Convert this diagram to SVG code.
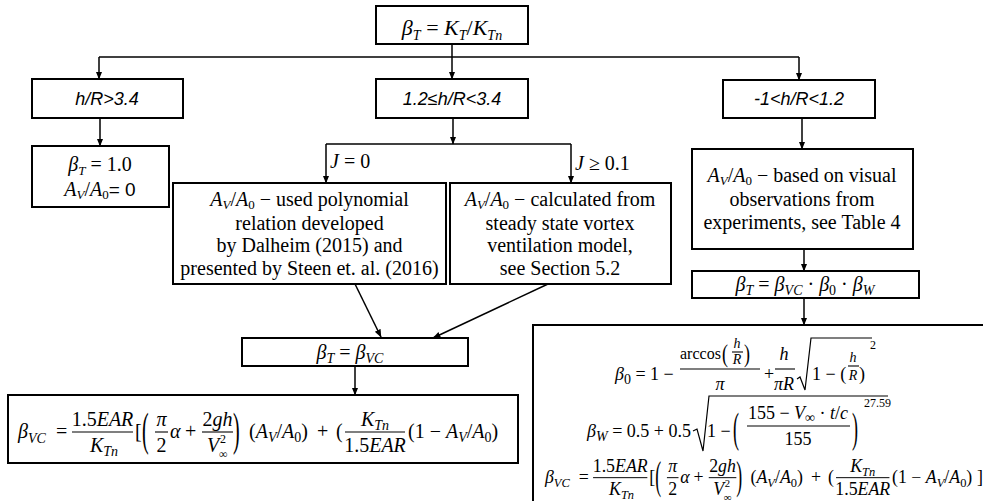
<svg xmlns="http://www.w3.org/2000/svg" xmlns:xlink="http://www.w3.org/1999/xlink" width="983" height="501" viewBox="0 0 983 501">
  <style>
    .box { fill: #fff; stroke: #000; stroke-width: 2; }
    .ln { fill: none; stroke: #000; stroke-width: 1.5; }
    .rad { fill: none; stroke: #000; stroke-width: 1.2; }
    .bar { stroke: #000; stroke-width: 1.1; }
    .m { font-family: "Liberation Serif", "Times New Roman", serif; font-size: 20px; fill: #000; }
    .sm { font-family: "Liberation Serif", "Times New Roman", serif; font-size: 18px; fill: #000; }
    .i { font-style: italic; }
    .sb { font-size: 14px; }
    .sb3 { font-size: 13px; }
    .sb2 { font-size: 12px; }
    .cs { font-family: "Liberation Sans", Arial, sans-serif; font-style: italic; font-size: 18px; fill: #000; }
    .sans { font-family: "Liberation Sans", Arial, sans-serif; font-style: normal; }
    .c { text-anchor: middle; }
  </style>
  <defs>
    <marker id="ah" markerUnits="userSpaceOnUse" markerWidth="8" markerHeight="8" refX="7.5" refY="4" orient="auto">
      <path d="M0,0.8 L8,4 L0,7.2 z" fill="#000"/>
    </marker>
    <!-- beta_VC expression, baseline at y=0 -->
    <g id="bvc-expr">
      <text class="m" x="0" y="0"><tspan class="i">β</tspan><tspan class="i sb" dy="5">VC</tspan></text>
      <text class="m" x="38" y="0">=</text>
      <text class="m c" x="84.5" y="-12">1.5<tspan class="i">EAR</tspan></text>
      <line class="bar" x1="54" y1="-6" x2="115" y2="-6"/>
      <text class="m c" x="86" y="14"><tspan class="i">K</tspan><tspan class="i sb" dy="4">Tn</tspan></text>
      <text class="m" x="117" y="0">[</text>
      <text class="m" transform="translate(124,7) scale(1,2.3)">(</text>
      <text class="m c i" x="143.5" y="-12">π</text>
      <line class="bar" x1="137" y1="-6" x2="150" y2="-6"/>
      <text class="m c" x="143.5" y="14">2</text>
      <text class="m i" x="152" y="0">α</text>
      <text class="m" x="167" y="0">+</text>
      <text class="m c" x="199.5" y="-12">2<tspan class="i">gh</tspan></text>
      <line class="bar" x1="184" y1="-6" x2="215" y2="-6"/>
      <text class="m i" x="189" y="14">V</text>
      <text class="m sb2" x="202" y="5">2</text>
      <text class="m sb2" x="201" y="20">∞</text>
      <text class="m" transform="translate(215,7) scale(1,2.3)">)</text>
      <text class="m" x="231" y="0">(<tspan class="i">A</tspan><tspan class="i sb" dy="4">V</tspan><tspan dy="-4">/</tspan><tspan class="i">A</tspan><tspan class="sb" dy="4">0</tspan><tspan dy="-4">)</tspan></text>
      <text class="m" x="299" y="0">+</text>
      <text class="m" x="318" y="0">(</text>
      <text class="m c" x="357" y="-12"><tspan class="i">K</tspan><tspan class="i sb" dy="4">Tn</tspan></text>
      <line class="bar" x1="327" y1="-6" x2="387" y2="-6"/>
      <text class="m c" x="357" y="14">1.5<tspan class="i">EAR</tspan></text>
      <text class="m" x="390" y="0">(1 − <tspan class="i">A</tspan><tspan class="i sb" dy="4">V</tspan><tspan dy="-4">/</tspan><tspan class="i">A</tspan><tspan class="sb" dy="4">0</tspan><tspan dy="-4">)</tspan></text>
    </g>
  </defs>

  <!-- connectors -->
  <g id="connectors">
    <path class="ln" d="M452,44 V79" marker-end="url(#ah)"/>
    <path class="ln" d="M99,57 H799"/>
    <path class="ln" d="M99,57 V79" marker-end="url(#ah)"/>
    <path class="ln" d="M799,57 V80" marker-end="url(#ah)"/>
    <path class="ln" d="M100,118 V146" marker-end="url(#ah)"/>
    <path class="ln" d="M453,118 V144" marker-end="url(#ah)"/>
    <path class="ln" d="M326,144 H571"/>
    <path class="ln" d="M326,144 V183" marker-end="url(#ah)"/>
    <path class="ln" d="M571,144 V183" marker-end="url(#ah)"/>
    <path class="ln" d="M355,284 L381,337" marker-end="url(#ah)"/>
    <path class="ln" d="M548,284 L433,338" marker-end="url(#ah)"/>
    <path class="ln" d="M355,366 V395" marker-end="url(#ah)"/>
    <path class="ln" d="M802,118 V149" marker-end="url(#ah)"/>
    <path class="ln" d="M804,249 V271" marker-end="url(#ah)"/>
    <path class="ln" d="M804,298 V325" marker-end="url(#ah)"/>
  </g>

  <g id="node-root">
    <rect class="box" x="376" y="6" width="152" height="38"/>
    <text class="m c" x="452" y="35" style="font-size:22px"><tspan class="i">β</tspan><tspan class="i sb" dy="5">T</tspan><tspan dy="-5"> = </tspan><tspan class="i">K</tspan><tspan class="i sb" dy="5">T</tspan><tspan dy="-5">/</tspan><tspan class="i">K</tspan><tspan class="i sb" dy="5">Tn</tspan></text>
  </g>

  <g id="node-high">
    <rect class="box" x="32" y="79" width="151" height="39"/>
    <text class="cs c" x="107" y="105">h/R&gt;3.4</text>
  </g>

  <g id="node-mid">
    <rect class="box" x="376" y="79" width="152" height="39"/>
    <text class="cs c" x="452" y="105">1.2≤h/R&lt;3.4</text>
  </g>

  <g id="node-low">
    <rect class="box" x="723" y="80" width="152" height="38"/>
    <text class="cs c" x="799" y="105">-1&lt;h/R&lt;1.2</text>
  </g>

  <g id="node-unity">
    <rect class="box" x="32" y="146" width="137" height="61"/>
    <text class="m c" x="100" y="170.5"><tspan class="i">β</tspan><tspan class="i sb3" dy="4">T</tspan><tspan dy="-4"> = 1.0</tspan></text>
    <text class="m c" x="100" y="196"><tspan class="i">A</tspan><tspan class="i sb3" dy="3">V</tspan><tspan dy="-3">/</tspan><tspan class="i">A</tspan><tspan class="sb3" dy="3">0</tspan><tspan class="sans" dy="-3" style="font-size:19px">= 0</tspan></text>
  </g>

  <g id="label-j0">
    <text class="m" x="330" y="168"><tspan class="i">J</tspan> = 0</text>
  </g>
  <g id="label-j01">
    <text class="m" x="575" y="170"><tspan class="i">J</tspan> ≥ 0.1</text>
  </g>

  <g id="node-polynomial">
    <rect class="box" x="173" y="183" width="273" height="101"/>
    <text class="m c" x="309.5" y="205.5"><tspan class="i">A</tspan><tspan class="i sb3" dy="3">V</tspan><tspan dy="-3">/</tspan><tspan class="i">A</tspan><tspan class="sb3" dy="3">0</tspan><tspan dy="-3"> − used polynomial</tspan></text>
    <text class="m c" x="309.5" y="229.5">relation developed</text>
    <text class="m c" x="309.5" y="252">by Dalheim (2015) and</text>
    <text class="m c" x="309.5" y="275">presented by Steen et. al. (2016)</text>
  </g>

  <g id="node-vortex">
    <rect class="box" x="450" y="183" width="221" height="101"/>
    <text class="m c" x="560" y="205.5"><tspan class="i">A</tspan><tspan class="i sb3" dy="3">V</tspan><tspan dy="-3">/</tspan><tspan class="i">A</tspan><tspan class="sb3" dy="3">0</tspan><tspan dy="-3"> −  calculated from</tspan></text>
    <text class="m c" x="560" y="229.5">steady state vortex</text>
    <text class="m c" x="560" y="252">ventilation model,</text>
    <text class="m c" x="560" y="275">see Section 5.2</text>
  </g>

  <g id="node-visual">
    <rect class="box" x="692" y="149" width="221" height="100"/>
    <text class="m c" x="802" y="181.5"><tspan class="i">A</tspan><tspan class="i sb3" dy="3">V</tspan><tspan dy="-3">/</tspan><tspan class="i">A</tspan><tspan class="sb3" dy="3">0</tspan><tspan dy="-3"> −  based on visual</tspan></text>
    <text class="m c" x="802" y="205.5">observations from</text>
    <text class="m c" x="802" y="228.5">experiments, see Table 4</text>
  </g>

  <g id="node-product">
    <rect class="box" x="692" y="271" width="227" height="27"/>
    <text class="m c" x="805" y="291"><tspan class="i">β</tspan><tspan class="i sb" dy="4">T</tspan><tspan dy="-4"> = </tspan><tspan class="i">β</tspan><tspan class="i sb" dy="4">VC</tspan><tspan dy="-4"> · </tspan><tspan class="i">β</tspan><tspan class="sb" dy="4">0</tspan><tspan dy="-4"> · </tspan><tspan class="i">β</tspan><tspan class="i sb" dy="4">W</tspan></text>
  </g>

  <g id="node-vc">
    <rect class="box" x="242" y="338" width="226" height="28"/>
    <text class="m c" x="350" y="359"><tspan class="i">β</tspan><tspan class="i sb" dy="4">T</tspan><tspan dy="-4"> = </tspan><tspan class="i">β</tspan><tspan class="i sb" dy="4">VC</tspan></text>
  </g>

  <g id="node-vc-formula">
    <rect class="box" x="8" y="395" width="510" height="68"/>
    <use xlink:href="#bvc-expr" transform="translate(18,438)"/>
  </g>

  <g id="node-full-formula">
    <rect class="box" x="533" y="325" width="470" height="200"/>
    <!-- beta_0 -->
    <text class="sm" x="615" y="380"><tspan class="i">β</tspan><tspan class="sb" dy="4">0</tspan><tspan dy="-4"> = 1 −</tspan></text>
    <text class="sm" x="680" y="359" style="font-size:16px">arccos</text>
    <text class="sm" transform="translate(722,362) scale(1,1.45)">(</text>
    <text class="sm c i sb" x="737" y="348">h</text>
    <line class="bar" x1="732" y1="352" x2="743" y2="352"/>
    <text class="sm c i sb" x="737" y="364">R</text>
    <text class="sm" transform="translate(744,362) scale(1,1.45)">)</text>
    <line class="bar" x1="680" y1="369" x2="760" y2="369"/>
    <text class="sm c i" x="720" y="390">π</text>
    <text class="sm" x="764" y="380">+</text>
    <text class="sm c i" x="784" y="360">h</text>
    <line class="bar" x1="775" y1="369" x2="795" y2="369"/>
    <text class="sm c i" x="784" y="390">πR</text>
    <polyline class="rad" points="797,379 800,377 805,390 811,338 872,338"/>
    <text class="sm" x="812" y="380">1 − (</text>
    <text class="sm c i sb" x="853" y="362">h</text>
    <line class="bar" x1="848" y1="366" x2="859" y2="366"/>
    <text class="sm c i sb" x="853" y="380">R</text>
    <text class="sm" x="859" y="380">)</text>
    <text class="sm sb2" x="870" y="349">2</text>
    <!-- beta_W -->
    <text class="sm" x="587" y="437"><tspan class="i">β</tspan><tspan class="i sb" dy="4">W</tspan><tspan dy="-4"> = 0.5 + 0.5</tspan></text>
    <polyline class="rad" points="693,431 697,429 703,451 709,396 888,396"/>
    <text class="sm" x="707" y="437">1 −</text>
    <text class="sm" transform="translate(733,442) scale(1,2.4)">(</text>
    <text class="sm c" x="798" y="419">155 − <tspan class="i">V</tspan><tspan class="sb" dy="3">∞</tspan><tspan dy="-3"> · </tspan><tspan class="i">t</tspan>/<tspan class="i">c</tspan></text>
    <line class="bar" x1="747" y1="426" x2="850" y2="426"/>
    <text class="sm c" x="798" y="445">155</text>
    <text class="sm" transform="translate(852,442) scale(1,2.4)">)</text>
    <text class="sm sb2" x="864" y="407">27.59</text>
    <!-- beta_VC -->
    <use xlink:href="#bvc-expr" transform="translate(545,483) scale(0.89)"/>
    <text class="sm" x="977" y="483">]</text>
  </g>
</svg>
